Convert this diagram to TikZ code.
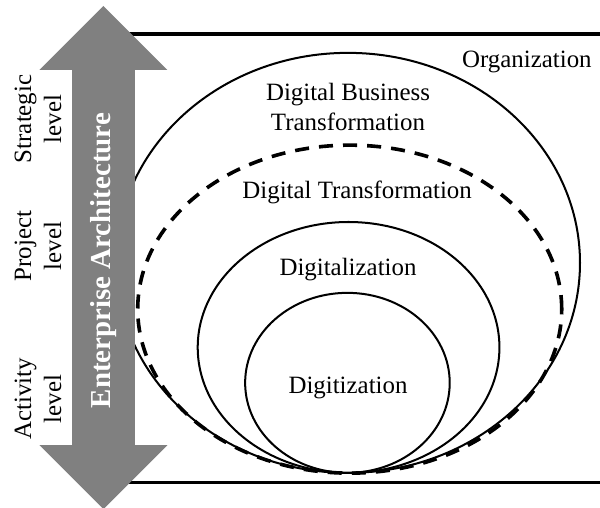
\documentclass[tikz,border=0pt]{standalone}
\usepackage{fontspec}
\setmainfont{Liberation Serif}
\usepackage{tikz}
\definecolor{eagray}{HTML}{808080}

\begin{document}
\begin{tikzpicture}[x=1cm,y=1cm,
  lbl/.style={font=\fontsize{12.4}{14.9}\selectfont,align=center,inner sep=0pt},
  levellbl/.style={lbl,rotate=90},
  ring/.style={line width=1pt},
  border/.style={line width=1.5pt}]
\useasboundingbox (0,0) rectangle (10.50,8.89);
% organization boundary lines (start hidden under the arrow)
\coordinate (orgtl) at (1.81,8.295);
\coordinate (orgtr) at (10.50,8.295);
\coordinate (orgbl) at (1.81,0.44);
\coordinate (orgbr) at (10.50,0.44);
\draw[border] (orgtl) -- (orgtr);
\draw[border] (orgbl) -- (orgbr);
% nested scopes, all touching at the bottom
\draw[ring] (6.09,4.29) ellipse [x radius=4.06, y radius=3.675];
\draw[line width=1.8pt,dash pattern=on 7pt off 5pt] (6.12,3.48) ellipse [x radius=3.71, y radius=2.87];
\draw[ring] (6.10,2.81) ellipse [x radius=2.64, y radius=2.195];
\draw[ring] (6.08,2.19) ellipse [x radius=1.79, y radius=1.575];
\node[lbl] (org) at (9.22,7.81) {Organization};
\node[lbl] (dbt) at (6.09,7.02) {Digital Business\\Transformation};
\node[lbl] (dt) at (6.25,5.53) {Digital Transformation};
\node[lbl] (dzn) at (6.09,4.17) {Digitalization};
\node[lbl] (dtn) at (6.09,2.10) {Digitization};
% EA arrow across the three levels
\fill[eagray] (1.81,8.785) -- (2.93,7.665) -- (2.36,7.665) -- (2.36,1.10) -- (2.93,1.10)
  -- (1.81,-0.02) -- (0.69,1.10) -- (1.26,1.10) -- (1.26,7.665) -- (0.69,7.665) -- cycle;
\node[rotate=90,text=white,inner sep=0pt,font=\fontsize{14.4}{16}\selectfont\bfseries] (ea) at (1.81,4.33) {Enterprise Architecture};
\node[levellbl] (strat) at (0.665,6.81) {Strategic\\level};
\node[levellbl] (proj) at (0.665,4.585) {Project\\level};
\node[levellbl] (act) at (0.665,1.91) {Activity\\level};
\end{tikzpicture}
\end{document}
